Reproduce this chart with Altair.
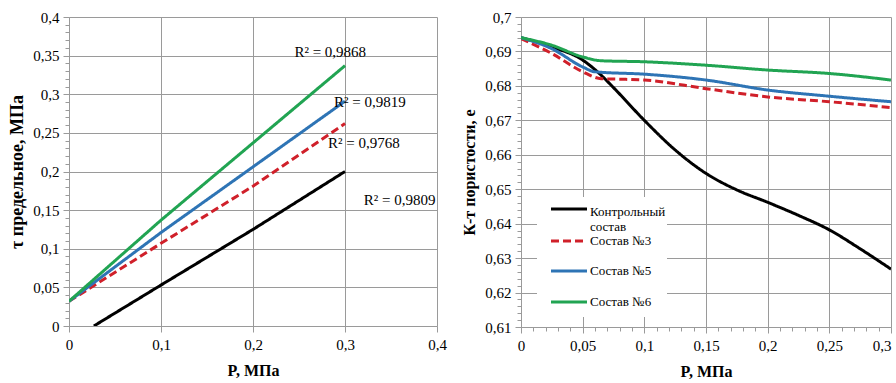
import altair as alt
import pandas as pd

FONT = "Liberation Serif"
LFONT = "Liberation Serif"
GRID = "#9a9a9a"

# ---------------- left chart data: shear strength vs P ----------------
series_names = ["Контрольный состав", "Состав №3", "Состав №5", "Состав №6"]
legend_texts = ["Контрольный\nсостав", "Состав №3", "Состав №5", "Состав №6"]
colors = ["#000000", "#d0202a", "#2e74b5", "#21a452"]
dashes = [[1, 0], [8, 4], [1, 0], [1, 0]]

left_p_control = [0.027, 0.1, 0.2, 0.3]
left_tau_control = [0.0, 0.053, 0.125, 0.2]
left_p = [0.0, 0.1, 0.2, 0.3]
left_tau_s3 = [0.032, 0.107, 0.181, 0.262]
left_tau_s5 = [0.032, 0.121, 0.206, 0.291]
left_tau_s6 = [0.032, 0.137, 0.237, 0.337]

r2_text = ["R² = 0,9868", "R² = 0,9819", "R² = 0,9768", "R² = 0,9809"]
r2_x = [0.245, 0.288, 0.2815, 0.3205]
r2_y = [0.355, 0.290, 0.237, 0.163]

# ---------------- right chart data: porosity vs P ----------------
right_p_control = [0.0, 0.025, 0.05, 0.065, 0.075, 0.1, 0.125, 0.15, 0.175, 0.2, 0.225, 0.25, 0.275, 0.3]
right_e_control = [0.694, 0.6913, 0.6875, 0.6831, 0.6795, 0.670, 0.6614, 0.6546, 0.6498, 0.6462, 0.6424, 0.6382, 0.6327, 0.6268]
right_p_s3 = [0.0, 0.025, 0.05, 0.065, 0.085, 0.1, 0.15, 0.2, 0.25, 0.3]
right_e_s3 = [0.6937, 0.6894, 0.6841, 0.6821, 0.6819, 0.6817, 0.6792, 0.6768, 0.6754, 0.6737]
right_p_s5 = [0.0, 0.025, 0.05, 0.06, 0.1, 0.15, 0.2, 0.25, 0.3]
right_e_s5 = [0.694, 0.6908, 0.6855, 0.6841, 0.6834, 0.6817, 0.6788, 0.677, 0.6754]
right_p_s6 = [0.0, 0.025, 0.05, 0.065, 0.1, 0.15, 0.2, 0.25, 0.3]
right_e_s6 = [0.694, 0.6918, 0.6884, 0.6873, 0.687, 0.686, 0.6846, 0.6836, 0.6817]


def long_df(pairs):
    rows = []
    for name, xs, ys in pairs:
        for i, (x, y) in enumerate(zip(xs, ys)):
            rows.append({"P": x, "v": y, "series": name, "order": i})
    return pd.DataFrame(rows)


left_df = long_df([
    (series_names[0], left_p_control, left_tau_control),
    (series_names[1], left_p, left_tau_s3),
    (series_names[2], left_p, left_tau_s5),
    (series_names[3], left_p, left_tau_s6),
])
right_df = long_df([
    (series_names[0], right_p_control, right_e_control),
    (series_names[1], right_p_s3, right_e_s3),
    (series_names[2], right_p_s5, right_e_s5),
    (series_names[3], right_p_s6, right_e_s6),
])
r2_df = pd.DataFrame({"P": r2_x, "v": r2_y, "t": r2_text})


def frange(a, b, step):
    n = int(round((b - a) / step))
    return [round(a + i * step, 4) for i in range(n + 1)]


def axis(values, major, title, title_size, orient, title_pad, label_pad, last=None):
    test = f"abs(datum.value / {major} - round(datum.value / {major})) < 0.001"
    extra = {}
    if last is not None:
        extra["labelAlign"] = {"condition": {"test": f"datum.value >= {last} - 0.0001", "value": "right"},
                               "value": "center"}
    return alt.Axis(
        values=values,
        title=title,
        orient=orient,
        labelExpr=f"({test}) ? replace(format(datum.value, '.2~f'), '.', ',') : ''",
        labelFont=FONT, labelFontSize=15, labelColor="#000",
        titleFont=FONT, titleFontSize=title_size, titleFontWeight="bold", titleColor="#000",
        titlePadding=title_pad, labelPadding=label_pad,
        grid=True,
        gridColor=GRID,
        gridOpacity={"condition": {"test": test, "value": 1}, "value": 0},
        tickColor=GRID,
        tickSize={"condition": {"test": test, "value": 6}, "value": 4},
        domainColor=GRID,
        labelOverlap=False,
        labelFlush=False,
        **extra,
    )


color_scale = alt.Scale(domain=series_names, range=colors)
dash_scale = alt.Scale(domain=series_names, range=dashes)

# ---------------- left chart ----------------
lx = alt.X("P:Q", scale=alt.Scale(domain=[0, 0.4], nice=False),
           axis=axis(frange(0, 0.4, 0.1), 0.1, "P, МПа", 16, "bottom", 10, 5))
ly = alt.Y("v:Q", scale=alt.Scale(domain=[0, 0.4], nice=False),
           axis=axis(frange(0, 0.4, 0.01), 0.05, "τ предельное, МПа", 18, "left", 6, 4))

left_lines = alt.Chart(left_df).mark_line(strokeWidth=3, clip=True).encode(
    x=lx, y=ly,
    color=alt.Color("series:N", scale=color_scale, legend=None),
    strokeDash=alt.StrokeDash("series:N", scale=dash_scale, legend=None),
    order="order:Q",
)
left_text = alt.Chart(r2_df).mark_text(align="left", baseline="middle", font=FONT, fontSize=15, color="#000").encode(
    x=lx, y=ly, text="t:N"
)
left = alt.layer(left_lines, left_text).properties(width=368, height=309)

# ---------------- right chart ----------------
rx = alt.X("P:Q", scale=alt.Scale(domain=[0, 0.3], nice=False),
           axis=axis(frange(0, 0.3, 0.01), 0.05, "P, МПа", 16, "bottom", 10, 5, last=0.3))
ry = alt.Y("v:Q", scale=alt.Scale(domain=[0.61, 0.7], nice=False, zero=False),
           axis=axis(frange(0.61, 0.7, 0.002), 0.01, "К-т  пористости,  е", 16, "left", 7, 4))

right_lines = alt.Chart(right_df).mark_line(strokeWidth=3, interpolate="monotone", clip=True).encode(
    x=rx, y=ry,
    color=alt.Color("series:N", scale=color_scale, legend=None),
    strokeDash=alt.StrokeDash("series:N", scale=dash_scale, legend=None),
    order="order:Q",
)

# legend drawn inside the plot (white box, line samples, labels)
legend_layers = [
    alt.Chart(pd.DataFrame({"series": ["box"]})).mark_rect(fill="white", stroke=None).encode(
        x=alt.value(16), x2=alt.value(146), y=alt.value(180), y2=alt.value(300)
    )
]
legend_rows_y = [192, 224, 254, 285]
for name, txt, yy in zip(series_names, legend_texts, legend_rows_y):
    d = pd.DataFrame({"series": [name], "t": [txt]})
    legend_layers.append(
        alt.Chart(d).mark_rule(strokeWidth=3).encode(
            x=alt.value(30), x2=alt.value(66), y=alt.value(yy),
            color=alt.Color("series:N", scale=color_scale, legend=None),
            strokeDash=alt.StrokeDash("series:N", scale=dash_scale, legend=None),
        )
    )
    legend_layers.append(
        alt.Chart(d).mark_text(align="left", baseline="middle", font=LFONT, fontSize=13,
                               color="#000", lineBreak="\n", lineHeight=15,
                               dy=(3 if "\n" in txt else 0)).encode(
            x=alt.value(69), y=alt.value(yy), text="t:N"
        )
    )

right = alt.layer(right_lines, *legend_layers).properties(width=370, height=310)

chart = alt.hconcat(left, right, spacing=14).configure(
    padding={"left": 8, "top": 10, "right": 0, "bottom": 0},
    background="white",
).configure_view(stroke=None)

chart.save("out.html", embed_options={"renderer": "svg", "actions": False})
